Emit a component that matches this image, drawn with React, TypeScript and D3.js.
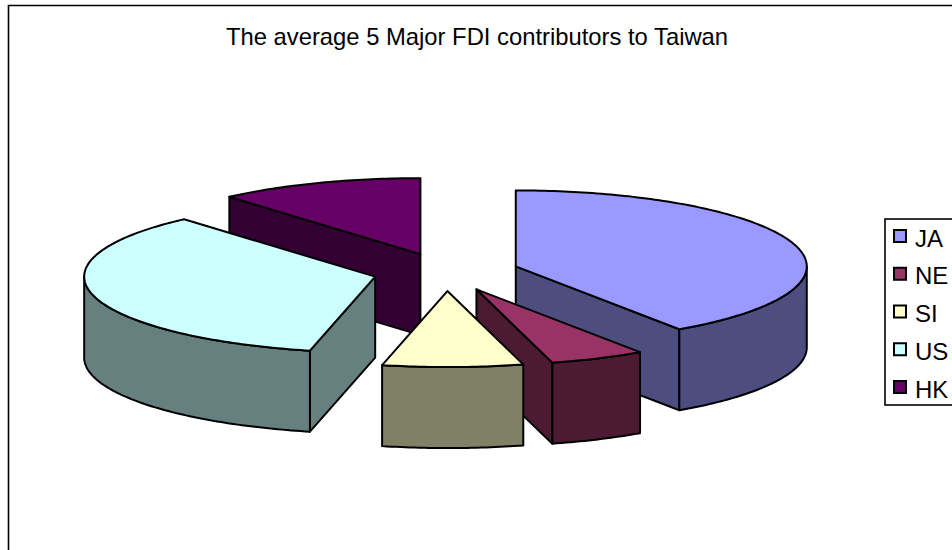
import React from "react";
import * as d3 from "d3";

const categories = ["JA", "NE", "SI", "US", "HK"];
const shares = [40.5, 5.3, 7.8, 35.0, 11.4];
const topColors = ["#9999FF", "#993366", "#FFFFCC", "#CCFFFF", "#660066"];
const sideColors = ["#4D4D80", "#4D1A33", "#808066", "#668080", "#330033"];
const drawOrder = ["HK", "JA", "NE", "US", "SI"];
const title = "The average 5 Major FDI contributors to Taiwan";

const W = 952, H = 550;
const cx = 446, cy = 272, rx = 291, ry = 76, depth = 81, explode = 73;

const slices = d3.pie<number>().sort(null)(shares);
const pt = (a: number, ox: number, oy: number, dy = 0): [number, number] => [
  ox + rx * Math.sin(a),
  oy - ry * Math.cos(a) + dy,
];

function arcPts(a0: number, a1: number, ox: number, oy: number, dy = 0) {
  const n = Math.max(2, Math.ceil(Math.abs(a1 - a0) * 60));
  return d3.range(n + 1).map((i) => pt(a0 + ((a1 - a0) * i) / n, ox, oy, dy));
}

const line = d3.line();

function Slice({ name }: { name: string }) {
  const i = categories.indexOf(name);
  const s = slices[i];
  const a0 = s.startAngle, a1 = s.endAngle;
  const mid = (a0 + a1) / 2;
  const ox = cx + explode * Math.sin(mid);
  const oy = cy - (explode * ry * Math.cos(mid)) / rx;
  const apex: [number, number] = [ox, oy];
  const apexB: [number, number] = [ox, oy + depth];
  const common = { stroke: "#000", strokeWidth: 2, strokeLinejoin: "round" as const, fill: sideColors[i] };
  const radial = (a: number) => {
    const p = pt(a, ox, oy);
    return [apex, p, [p[0], p[1] + depth], apexB] as [number, number][];
  };
  const faces: [number, number][][] = [];
  if (name === "JA") faces.push(radial(a1));
  if (name === "NE") faces.push(radial(a1));
  if (name === "US") faces.push(radial(a0));
  if (name === "HK") faces.push(radial(a0));
  // outer wall: lower half of the rim only
  const w0 = Math.max(a0, Math.PI / 2), w1 = Math.min(a1, (3 * Math.PI) / 2);
  const wall: [number, number][] | null =
    w1 > w0 ? [...arcPts(w0, w1, ox, oy), ...arcPts(w1, w0, ox, oy, depth)] : null;
  const top: [number, number][] = [apex, ...arcPts(a0, a1, ox, oy)];
  return (
    <g>
      {faces.map((f, k) => (
        <path key={k} d={line(f)! + "Z"} {...common} />
      ))}
      {wall && <path d={line(wall)! + "Z"} {...common} />}
      <path d={line(top)! + "Z"} {...common} fill={topColors[i]} />
    </g>
  );
}

const legendY = d3.scalePoint<string>().domain(categories).range([236, 387]);

export default function App() {
  return (
    <svg
      width={W}
      height={H}
      viewBox={`0 0 ${W} ${H}`}
      style={{ position: "absolute", left: 0, top: 0, display: "block", background: "#fff" }}
      fontFamily="'Liberation Sans', Arial, sans-serif"
    >
      <path d={`M8.5 ${H + 5}V5.5H${W + 5}`} fill="none" stroke="#000" strokeWidth={1.6} />
      <text x={477} y={45} textAnchor="middle" fontSize={23.8} fill="#000">
        {title}
      </text>
      {drawOrder.map((n) => (
        <Slice key={n} name={n} />
      ))}
      <rect x={885} y={219} width={80} height={186} fill="#fff" stroke="#000" strokeWidth={1.6} />
      {categories.map((c, i) => (
        <g key={c}>
          <rect
            x={894}
            y={legendY(c)! - 6}
            width={12}
            height={12}
            fill={topColors[i]}
            stroke="#000"
            strokeWidth={2}
          />
          <text x={915} y={legendY(c)! + 10.5} fontSize={24} fill="#000">
            {c}
          </text>
        </g>
      ))}
    </svg>
  );
}
